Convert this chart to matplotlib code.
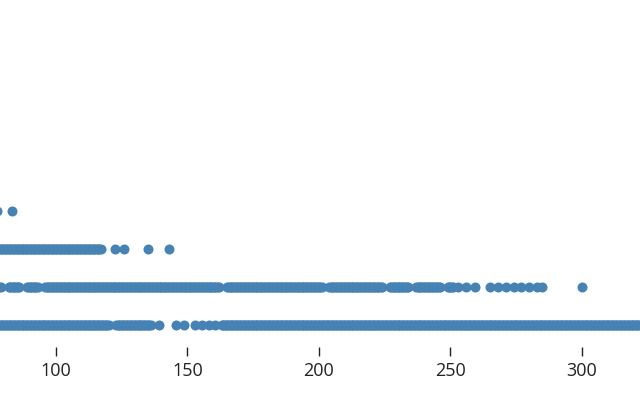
import matplotlib.pyplot as plt

# strip rows, bottom (level 0) to top (level 3)
row0 = [78, 78.5, 79, 79.5, 80, 80.5, 81, 81.5, 82, 82.5, 83, 83.5, 84, 84.5, 85, 85.5,
        86, 86.5, 87, 87.5, 88, 88.5, 89, 89.5, 90, 90.5, 91, 91.5, 92, 92.5, 93, 93.5,
        94, 94.5, 95, 95.5, 96, 96.5, 97, 97.5, 98, 98.5, 99, 99.5, 100, 100.5, 101, 101.5,
        102, 102.5, 103, 103.5, 104, 104.5, 105, 105.5, 106, 106.5, 107, 107.5, 108, 108.5,
        109, 109.5, 110, 110.5, 111, 111.5, 112, 112.5, 113, 113.5, 114, 114.5, 115, 115.5,
        116, 116.5, 117, 117.5, 118, 118.5, 119, 119.5, 120,
        123, 123.5, 124, 124.5, 125, 125.5, 126, 126.5, 127, 127.5, 128, 128.5, 129, 129.5,
        130, 130.5, 131, 131.5, 132, 132.5, 133, 133.5, 134, 134.5, 135, 135.5, 136,
        139, 145.5, 148.5, 153, 155.5, 158, 160.5,
        163, 163.5, 164, 164.5, 165, 165.5, 166, 166.5, 167, 167.5, 168, 168.5, 169, 169.5,
        170, 170.5, 171, 171.5, 172, 172.5, 173, 173.5, 174, 174.5, 175, 175.5, 176, 176.5,
        177, 177.5, 178, 178.5, 179, 179.5, 180, 180.5, 181, 181.5, 182, 182.5, 183, 183.5,
        184, 184.5, 185, 185.5, 186, 186.5, 187, 187.5, 188, 188.5, 189, 189.5, 190, 190.5,
        191, 191.5, 192, 192.5, 193, 193.5, 194, 194.5, 195, 195.5, 196, 196.5, 197, 197.5,
        198, 198.5, 199, 199.5, 200, 200.5, 201, 201.5, 202, 202.5, 203, 203.5, 204, 204.5,
        205, 205.5, 206, 206.5, 207, 207.5, 208, 208.5, 209, 209.5, 210, 210.5, 211, 211.5,
        212, 212.5, 213, 213.5, 214, 214.5, 215, 215.5, 216, 216.5, 217, 217.5, 218, 218.5,
        219, 219.5, 220, 220.5, 221, 221.5, 222, 222.5, 223, 223.5, 224, 224.5, 225, 225.5,
        226, 226.5, 227, 227.5, 228, 228.5, 229, 229.5, 230, 230.5, 231, 231.5, 232, 232.5,
        233, 233.5, 234, 234.5, 235, 235.5, 236, 236.5, 237, 237.5, 238, 238.5, 239, 239.5,
        240, 240.5, 241, 241.5, 242, 242.5, 243, 243.5, 244, 244.5, 245, 245.5, 246, 246.5,
        247, 247.5, 248, 248.5, 249, 249.5, 250, 250.5, 251, 251.5, 252, 252.5, 253, 253.5,
        254, 254.5, 255, 255.5, 256, 256.5, 257, 257.5, 258, 258.5, 259, 259.5, 260, 260.5,
        261, 261.5, 262, 262.5, 263, 263.5, 264, 264.5, 265, 265.5, 266, 266.5, 267, 267.5,
        268, 268.5, 269, 269.5, 270, 270.5, 271, 271.5, 272, 272.5, 273, 273.5, 274, 274.5,
        275, 275.5, 276, 276.5, 277, 277.5, 278, 278.5, 279, 279.5, 280, 280.5, 281, 281.5,
        282, 282.5, 283, 283.5, 284, 284.5, 285, 285.5, 286, 286.5, 287, 287.5, 288, 288.5,
        289, 289.5, 290, 290.5, 291, 291.5, 292, 292.5, 293, 293.5, 294, 294.5, 295, 295.5,
        296, 296.5, 297, 297.5, 298, 298.5, 299, 299.5, 300, 300.5, 301, 301.5, 302, 302.5,
        303, 303.5, 304, 304.5, 305, 305.5, 306, 306.5, 307, 307.5, 308, 308.5, 309, 309.5,
        310, 310.5, 311, 311.5, 312, 312.5, 313, 313.5, 314, 314.5, 315, 315.5, 316, 316.5,
        317, 317.5, 318, 318.5, 319, 319.5, 320, 320.5, 321, 321.5, 322]
row1 = [78, 78.5, 79, 82, 82.5, 83, 83.5, 84, 84.5, 85, 85.5, 86,
        89, 89.5, 90, 90.5, 91, 91.5, 92, 92.5, 93,
        96, 96.5, 97, 97.5, 98, 98.5, 99, 99.5, 100, 100.5, 101, 101.5, 102, 102.5,
        103, 103.5, 104, 104.5, 105, 105.5, 106, 106.5, 107, 107.5, 108, 108.5, 109, 109.5,
        110, 110.5, 111, 111.5, 112, 112.5, 113, 113.5, 114, 114.5, 115, 115.5, 116, 116.5,
        117, 117.5, 118, 118.5, 119, 119.5, 120, 120.5, 121, 121.5, 122, 122.5, 123, 123.5,
        124, 124.5, 125, 125.5, 126, 126.5, 127, 127.5, 128, 128.5, 129, 129.5, 130, 130.5,
        131, 131.5, 132, 132.5, 133, 133.5, 134, 134.5, 135, 135.5, 136, 136.5, 137, 137.5,
        138, 138.5, 139, 139.5, 140, 140.5, 141, 141.5, 142, 142.5, 143, 143.5, 144, 144.5,
        145, 145.5, 146, 146.5, 147, 147.5, 148, 148.5, 149, 149.5, 150, 150.5, 151, 151.5,
        152, 152.5, 153, 153.5, 154, 154.5, 155, 155.5, 156, 156.5, 157, 157.5, 158, 158.5,
        159, 159.5, 160, 160.5, 161, 161.5, 162,
        165, 165.5, 166, 166.5, 167, 167.5, 168, 168.5, 169, 169.5, 170, 170.5, 171, 171.5,
        172, 172.5, 173, 173.5, 174, 174.5, 175, 175.5, 176, 176.5, 177, 177.5, 178, 178.5,
        179, 179.5, 180, 180.5, 181, 181.5, 182, 182.5, 183, 183.5, 184, 184.5, 185, 185.5,
        186, 186.5, 187, 187.5, 188, 188.5, 189, 189.5, 190, 190.5, 191, 191.5, 192, 192.5,
        193, 193.5, 194, 194.5, 195, 195.5, 196, 196.5, 197, 197.5, 198, 198.5, 199, 199.5,
        200, 200.5, 201,
        204, 204.5, 205, 205.5, 206, 206.5, 207, 207.5, 208, 208.5, 209, 209.5, 210, 210.5,
        211, 211.5, 212, 212.5, 213, 213.5, 214, 214.5, 215, 215.5, 216, 216.5, 217, 217.5,
        218, 218.5, 219, 219.5, 220, 220.5, 221, 221.5, 222, 222.5, 223, 223.5, 224,
        227, 227.5, 228, 228.5, 229, 229.5, 230, 230.5, 231, 231.5, 232, 232.5, 233, 233.5, 234,
        237, 237.5, 238, 238.5, 239, 239.5, 240, 240.5, 241, 241.5, 242, 242.5, 243, 243.5,
        244, 244.5, 245, 245.5, 246,
        249, 249.5, 250, 250.5, 251, 253, 256, 259.5,
        265, 268, 271, 274, 277, 280, 283, 285, 300]
row2 = [78, 78.5, 79, 79.5, 80, 80.5, 81, 81.5, 82, 82.5, 83, 83.5, 84, 84.5, 85, 85.5,
        86, 86.5, 87, 87.5, 88, 88.5, 89, 89.5, 90, 90.5, 91, 91.5, 92, 92.5, 93, 93.5,
        94, 94.5, 95, 95.5, 96, 96.5, 97, 97.5, 98, 98.5, 99, 99.5, 100, 100.5, 101, 101.5,
        102, 102.5, 103, 103.5, 104, 104.5, 105, 105.5, 106, 106.5, 107, 107.5, 108, 108.5,
        109, 109.5, 110, 110.5, 111, 111.5, 112, 112.5, 113, 113.5, 114, 114.5, 115, 115.5,
        116, 116.5, 117, 122.4, 125.9, 135, 143]
row3 = [77.5, 83.3]

rows = [row0, row1, row2, row3]

fig = plt.figure(figsize=(6.4, 4), dpi=100)
ax = fig.add_axes([0, 0.1325, 1, 0.8675])

for level, vals in enumerate(rows):
    ax.scatter(vals, [level] * len(vals), s=52, color='steelblue',
               linewidths=0, zorder=3)

ax.set_xlim(78.7, 322.1)
ax.set_ylim(-0.58, 8.55)
ax.set_xticks([100, 150, 200, 250, 300])
ax.set_yticks([])
for sp in ax.spines.values():
    sp.set_visible(False)
ax.tick_params(axis='x', length=6.5, width=1, color='#222222', pad=4,
               labelsize=13, labelcolor='#222222')
for lbl in ax.get_xticklabels():
    lbl.set_fontfamily('Open Sans')

fig.savefig('out.png', dpi=100)
